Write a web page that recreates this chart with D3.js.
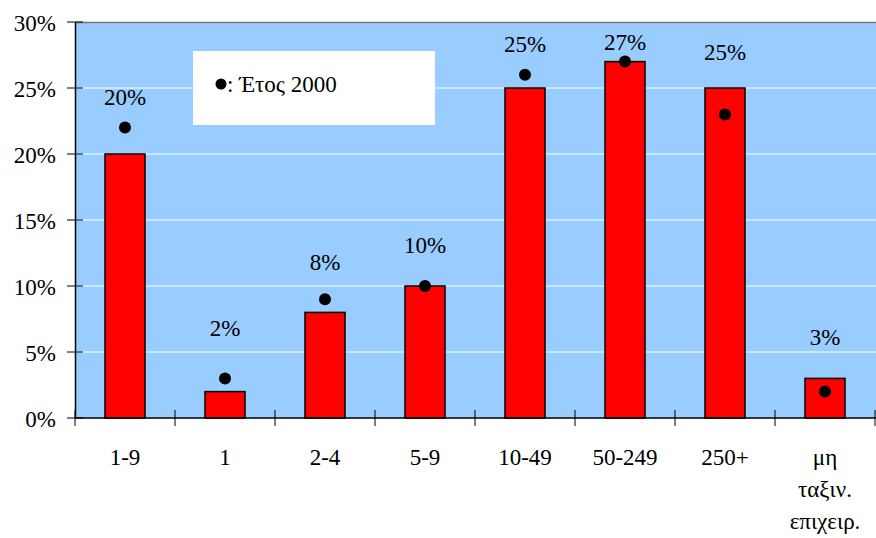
<!DOCTYPE html>
<html><head><meta charset="utf-8">
<script src="https://cdn.jsdelivr.net/npm/d3@7"></script>
<style>body{margin:0;background:#fff}svg{display:block}</style>
</head><body><svg id="c" width="876" height="538"></svg>
<script>
const categories = ["1-9","1","2-4","5-9","10-49","50-249","250+","μη|ταξιν.|επιχειρ."];
const values = [20,2,8,10,25,27,25,3];
const year2000 = [22,3,9,10,26,27,23,2];
const labelLevel = [24.3,6.8,11.8,13.1,28.3,28.5,27.7,6.1];
const yTicks = [0,5,10,15,20,25,30];
const legendText = ": Έτος 2000";

const FONT = "Liberation Serif, Tinos, DejaVu Serif, Noto Serif, Times New Roman, serif";
const FS = "23px";
const svg = d3.select("#c");
const L=75, R=875, T=22, B=418;
const x = d3.scaleBand().domain(d3.range(categories.length)).range([L,R]).paddingInner(0.6).paddingOuter(0.3);
const xb = d3.scaleBand().domain(d3.range(categories.length)).range([L,R]);
const y = d3.scaleLinear().domain([0,30]).range([B,T]);
const txt = s => s.attr("font-family",FONT).attr("font-size",FS).attr("fill","#000");

svg.append("rect").attr("x",L).attr("y",T).attr("width",876-L).attr("height",B-T).attr("fill","#99ccff");
svg.append("g").selectAll("line").data(yTicks.filter(d=>d>0&&d<30)).join("line")
  .attr("x1",L).attr("x2",876).attr("y1",d=>y(d)).attr("y2",d=>y(d)).attr("stroke","#fff").attr("stroke-width",1);
svg.append("line").attr("x1",L).attr("x2",876).attr("y1",T+0.5).attr("y2",T+0.5).attr("stroke","#777").attr("stroke-width",1.5);

// legend
const lg = svg.append("g");
lg.append("rect").attr("x",193).attr("y",51).attr("width",242).attr("height",74).attr("fill","#fff");
lg.append("circle").attr("cx",221).attr("cy",84).attr("r",5.5).attr("fill","#000");
lg.append("text").attr("x",227).attr("y",92).text(legendText).call(txt);

// bars
svg.append("g").selectAll("rect").data(values).join("rect")
  .attr("x",(d,i)=>x(i)).attr("width",x.bandwidth()).attr("y",d=>y(d)).attr("height",d=>B-y(d))
  .attr("fill","#ff0000").attr("stroke","#000").attr("stroke-width",1.5);

// dots
svg.append("g").selectAll("circle").data(year2000).join("circle")
  .attr("cx",(d,i)=>x(i)+x.bandwidth()/2).attr("cy",d=>y(d)).attr("r",6).attr("fill","#000");

// value labels
svg.append("g").selectAll("text").data(values).join("text")
  .attr("x",(d,i)=>x(i)+x.bandwidth()/2).attr("y",(d,i)=>y(labelLevel[i])+8)
  .attr("text-anchor","middle").text(d=>d+"%").call(txt);

// y axis
const ya = svg.append("g").attr("transform",`translate(${L},0)`)
  .call(d3.axisLeft(y).tickValues(yTicks).tickFormat(d=>d+"%").tickSize(0).tickPadding(19));
ya.attr("font-family",null).attr("font-size",null);
ya.select(".domain").attr("stroke","#000").attr("stroke-width",1.5);
ya.selectAll("text").call(txt).attr("dy","0.35em");
svg.append("g").selectAll("line").data(yTicks).join("line")
  .attr("x1",L-8).attr("x2",L+8).attr("y1",d=>y(d)).attr("y2",d=>y(d)).attr("stroke","#000");

// x axis
svg.append("line").attr("x1",L).attr("x2",876).attr("y1",B).attr("y2",B).attr("stroke","#000").attr("stroke-width",1.5);
svg.append("g").selectAll("line").data(d3.range(categories.length+1)).join("line")
  .attr("x1",i=>L+i*xb.bandwidth()).attr("x2",i=>L+i*xb.bandwidth())
  .attr("y1",B-8).attr("y2",B+8).attr("stroke","#000");
const xl = svg.append("g").selectAll("text").data(categories).join("text")
  .attr("x",(d,i)=>x(i)+x.bandwidth()/2).attr("y",465).attr("text-anchor","middle").call(txt);
xl.each(function(d){
  const t=d3.select(this);
  d.split("|").forEach((s,j)=>t.append("tspan").attr("x",t.attr("x")).attr("dy",j?32:0).text(s));
});
</script></body></html>
